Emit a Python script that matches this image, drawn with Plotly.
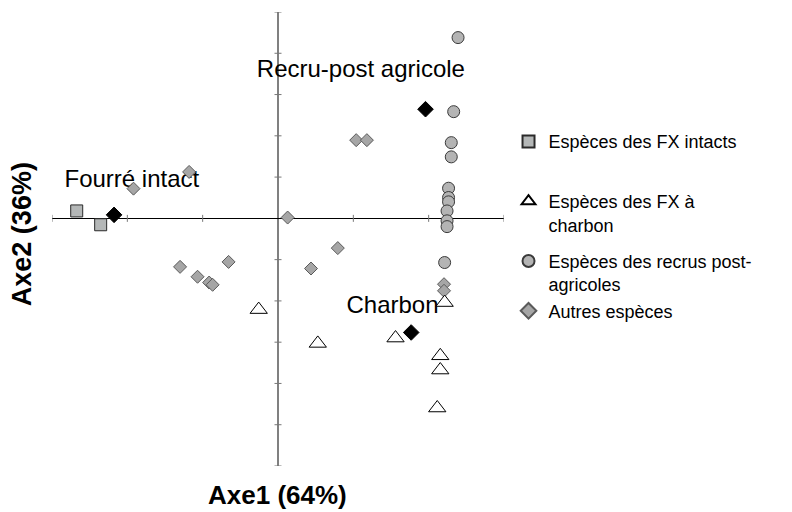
import plotly.graph_objects as go

# ---- data ----
fx_intact_x = [-1.336, -1.177]
fx_intact_y = [0.036, -0.031]

charbon_x = [-0.128, 0.264, 0.780, 1.106, 1.077, 1.077, 1.057]
charbon_y = [-0.442, -0.606, -0.580, -0.408, -0.666, -0.735, -0.919]

recru_x = [1.195, 1.166, 1.150, 1.150, 1.132, 1.132, 1.132, 1.122, 1.122, 1.122, 1.106]
recru_y = [0.876, 0.517, 0.367, 0.298, 0.146, 0.101, 0.080, 0.036, -0.012, -0.040, -0.214]

autres_x = [-0.590, -0.959, 0.519, 0.590, 0.064, -0.650, -0.534, -0.457, -0.434, -0.328,
            0.219, 0.397, 1.102, 1.102]
autres_y = [0.225, 0.144, 0.379, 0.379, 0.004, -0.235, -0.283, -0.311, -0.322, -0.211,
            -0.243, -0.144, -0.319, -0.351]

centroid_x = [-1.088, 0.979, 0.884]
centroid_y = [0.017, 0.529, -0.553]

label_text = ["Fourré intact", "Recru-post agricole", "Charbon"]
label_x = [-0.97, 0.55, 0.76]
label_y = [0.182, 0.714, -0.43]

x_ticks = [-1.5, -1.0, -0.5, 0.5, 1.0, 1.5]
y_ticks = [-1.2, -1.0, -0.8, -0.6, -0.4, -0.2, 0.2, 0.4, 0.6, 0.8, 1.0]

legend_names = ["Espèces des FX intacts<br> ", "Espèces des FX à<br>charbon",
                "Espèces des recrus post-<br>agricoles", "Autres espèces"]

FONT = "Liberation Sans, Arial, sans-serif"

fig = go.Figure()

# labels (drawn first so markers sit on top)
fig.add_trace(go.Scatter(x=label_x, y=label_y, mode="text", text=label_text,
                         textposition="middle center",
                         textfont=dict(family=FONT, size=24, color="black"),
                         showlegend=False, hoverinfo="skip"))

# tick marks along the zero axes
fig.add_trace(go.Scatter(x=[0] * len(y_ticks), y=y_ticks, mode="markers",
                         marker=dict(symbol="line-ew", size=5, line=dict(color="#777777", width=1)),
                         showlegend=False, hoverinfo="skip"))
fig.add_trace(go.Scatter(x=x_ticks, y=[0] * len(x_ticks), mode="markers",
                         marker=dict(symbol="line-ns", size=5, line=dict(color="#777777", width=1)),
                         showlegend=False, hoverinfo="skip"))

fig.add_trace(go.Scatter(x=autres_x, y=autres_y, mode="markers", name=legend_names[3],
                         legendrank=4, legendgroup="g3",
                         marker=dict(symbol="diamond", size=10, color="#A6A6A6",
                                     line=dict(color="#5A5A5A", width=1))))
fig.add_trace(go.Scatter(x=charbon_x, y=charbon_y, mode="markers", name=legend_names[1],
                         legendrank=2, legendgroup="g2",
                         marker=dict(symbol="triangle-up", size=15, color="white",
                                     line=dict(color="black", width=1))))
fig.add_trace(go.Scatter(x=recru_x, y=recru_y, mode="markers", name=legend_names[2],
                         legendrank=3, legendgroup="g3",
                         marker=dict(symbol="circle", size=12, color="#B4B4B4",
                                     line=dict(color="#3A3A3A", width=1))))
fig.add_trace(go.Scatter(x=fx_intact_x, y=fx_intact_y, mode="markers", name=legend_names[0],
                         legendrank=1, legendgroup="g1",
                         marker=dict(symbol="square", size=12, color="#B4B7B7",
                                     line=dict(color="#2A2A2A", width=1))))
fig.add_trace(go.Scatter(x=centroid_x, y=centroid_y, mode="markers", showlegend=False,
                         marker=dict(symbol="diamond", size=12, color="black",
                                     line=dict(color="black", width=1))))

fig.update_layout(
    width=784, height=504, autosize=False,
    margin=dict(l=44, r=288, t=4, b=46),
    paper_bgcolor="white", plot_bgcolor="white",
    font=dict(family=FONT, color="black"),
    xaxis=dict(range=[-1.5, 1.5], showgrid=False, showticklabels=False, ticks="",
               showline=False, zeroline=True, zerolinecolor="#808080", zerolinewidth=2),
    yaxis=dict(range=[-1.2, 1.0], showgrid=False, showticklabels=False, ticks="",
               showline=False, zeroline=True, zerolinecolor="black", zerolinewidth=1),
    legend=dict(x=1.01, y=0.755, xanchor="left", yanchor="top", valign="top",
                font=dict(family=FONT, size=18, color="black"),
                tracegroupgap=10, itemsizing="constant", bgcolor="rgba(0,0,0,0)"),
    showlegend=True,
    annotations=[
        dict(text="<b>Axe1 (64%)</b>", xref="paper", yref="paper", x=0.498, y=-0.064,
             xanchor="center", yanchor="middle", showarrow=False,
             font=dict(family=FONT, size=26, color="black")),
        dict(text="<b>Axe2 (36%)</b>", xref="paper", yref="paper", x=-0.066, y=0.511,
             xanchor="center", yanchor="middle", showarrow=False, textangle=-90,
             font=dict(family=FONT, size=27, color="black")),
    ],
)

fig.write_html("out.html")
